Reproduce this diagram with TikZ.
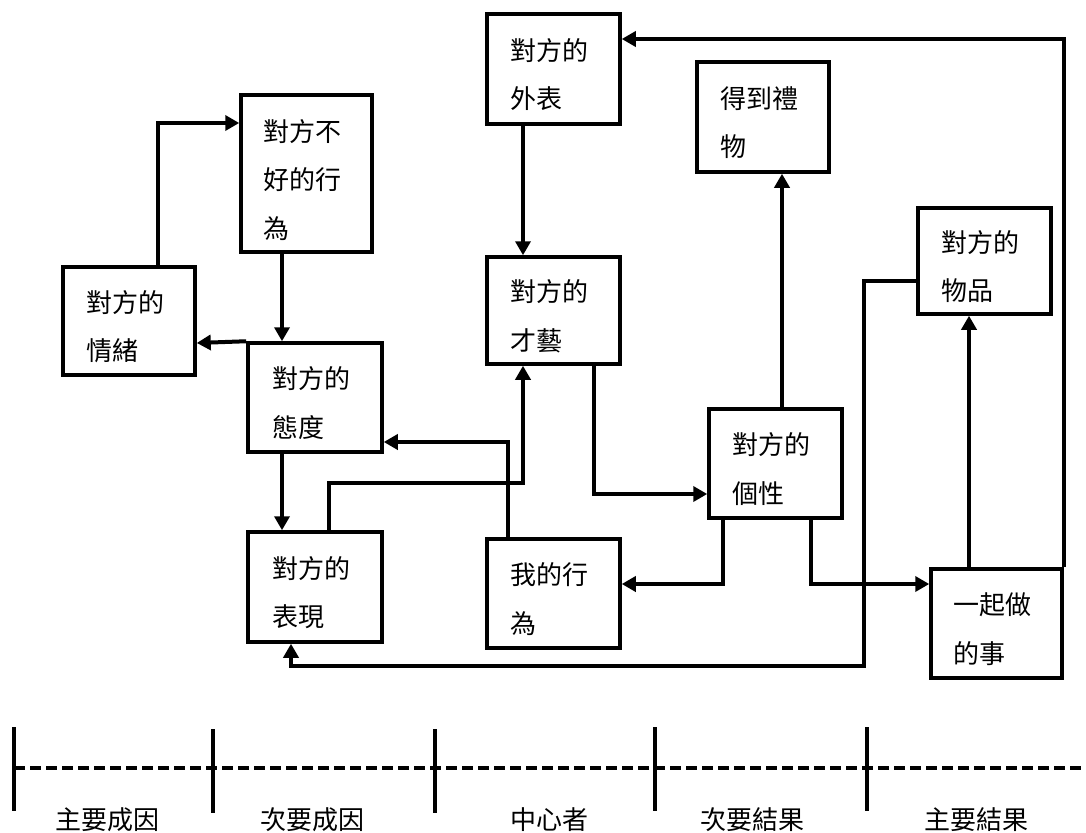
\documentclass[tikz,border=0pt]{standalone}
\usepackage{fontspec}
\setmainfont{Noto Sans CJK TC}
\usetikzlibrary{arrows.meta}
\newcommand{\bxfont}{\fontsize{26}{48.5}\selectfont}
\newcommand{\up}{\rule{0pt}{33pt}}
\tikzset{
  box/.style={draw, line width=3.5pt, rectangle, inner xsep=22pt, inner ysep=0pt,
    align=left, text width=86pt, font=\bxfont},
  bx/.style n args={2}{box, minimum width=#1, minimum height=#2},
  arr/.style={line width=4pt, -{Triangle[length=14pt,width=15pt]}},
  tick/.style={line width=4pt},
  axis/.style={line width=4pt, dash pattern=on 11pt off 5pt},
  lab/.style={font=\fontsize{26}{30}\selectfont, anchor=base, inner sep=0pt}
}
\begin{document}
\begin{tikzpicture}[x=1pt,y=-1pt]
\useasboundingbox[fill=white] (0,0) rectangle (1086,832);
% boxes
\node[bx={133pt}{110pt}] (waibiao) at (553.5,69) {\up 對方的\\外表};
\node[bx={132pt}{110pt}] (liwu) at (763,117) {\up 得到禮\\物};
\node[bx={133pt}{106pt}] (wupin) at (984.5,261) {\up 對方的\\物品};
\node[bx={131pt}{157pt}] (bad) at (306.5,173.5) {\rule{0pt}{35pt}對方不\\好的行\\為};
\node[bx={132pt}{108pt}] (qing) at (129,321) {\up 對方的\\情緒};
\node[bx={134pt}{109pt}] (taidu) at (315,397.5) {\up 對方的\\態度};
\node[bx={134pt}{110pt}] (biaoxian) at (315,587) {\up 對方的\\表現};
\node[bx={133pt}{107pt}] (caiyi) at (553.5,310.5) {\up 對方的\\才藝};
\node[bx={133pt}{109pt}] (wode) at (553.5,593.5) {\up 我的行\\為};
\node[bx={133pt}{109pt}] (gexing) at (775.5,463.5) {\up 對方的\\個性};
\node[bx={131pt}{109pt}] (yiqi) at (996.5,623.5) {\up 一起做\\的事};
% connectors
\draw[arr] ([xshift=29pt]qing.north) |- ([yshift=50.5pt]bad.west);
\draw[arr] ([xshift=-24.5pt]bad.south) -- ([xshift=-33pt]taidu.north);
\draw[arr] (taidu.north west) -- ([yshift=-22pt]qing.east);
\draw[arr] ([xshift=-33pt]taidu.south) -- ([xshift=-33pt]biaoxian.north);
\draw[arr] ([xshift=14pt]biaoxian.north) -- ++(0,-47) -| ([xshift=-30.5pt]caiyi.south);
\draw[arr] ([xshift=-45.5pt]wode.north) |- ([yshift=-44.5pt]taidu.east);
\draw[arr] ([xshift=40.5pt]caiyi.south) |- ([yshift=-30.5pt]gexing.west);
\draw[arr] ([xshift=-52.5pt]gexing.south) |- ([yshift=9.5pt]wode.east);
\draw[arr] ([xshift=35.5pt]gexing.south) |- ([yshift=39.5pt]yiqi.west);
\draw[arr] ([xshift=6.5pt]gexing.north) -- ([xshift=19pt]liwu.south);
\draw[arr] ([xshift=-27.5pt]yiqi.north) -- ([xshift=-15.5pt]wupin.south);
\draw[arr] (yiqi.north east) |- ([yshift=30pt]waibiao.east);
\draw[arr] ([yshift=-20pt]wupin.west) -- ++(-52,0) -- ++(0,385) -| ([xshift=-24pt]biaoxian.south);
\draw[arr] ([xshift=-30.5pt]waibiao.south) -- ([xshift=-30.5pt]caiyi.north);
% timeline
\draw[axis] (14,768) -- (1086,768);
\draw[tick] (14,727) -- (14,811);
\draw[tick] (213,729) -- (213,813);
\draw[tick] (435,729) -- (435,813);
\draw[tick] (655,727) -- (655,811);
\draw[tick] (867,727) -- (867,811);
\node[lab] (l1) at (107,829) {主要成因};
\node[lab] (l2) at (312,829) {次要成因};
\node[lab] (l3) at (549,829) {中心者};
\node[lab] (l4) at (752,829) {次要結果};
\node[lab] (l5) at (976,829) {主要結果};
\end{tikzpicture}
\end{document}
